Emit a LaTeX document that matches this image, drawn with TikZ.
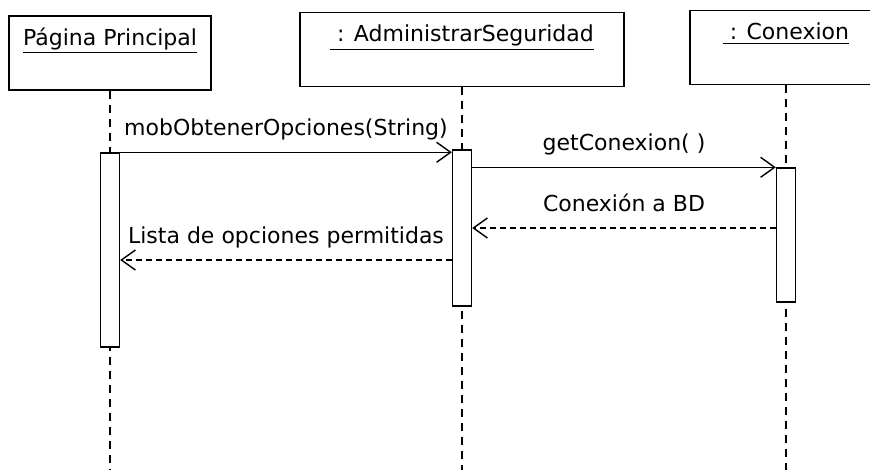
\documentclass[tikz,border=0pt]{standalone}
\usepackage{fontspec}
\setmainfont{DejaVu Sans}
\usetikzlibrary{positioning, arrows.meta, calc}

\begin{document}
\begin{tikzpicture}[x=0.5pt, y=-0.5pt,
    every node/.style={font=\fontsize{11}{13}\selectfont},
    objeto/.style={draw, line width=0.7pt, minimum width=#1, minimum height=37pt, inner sep=0pt},
    nombre/.style={anchor=base, yshift=-15pt, inner sep=0pt},
    activa/.style={draw, fill=white, line width=0.7pt, minimum width=9.5pt, minimum height=#1, inner sep=0pt},
    vida/.style={line width=0.8pt, dash pattern=on 4pt off 3pt},
    llamada/.style={line width=0.7pt, -{Straight Barb[length=7pt, width=10pt]}},
    retorno/.style={llamada, dash pattern=on 3pt off 2pt},
    lbl/.style={midway, anchor=base, yshift=8.5pt, inner sep=0pt}]
    \useasboundingbox (0,0) rectangle (870,470);
    \clip (0,0) rectangle (870,470);

    % Objects
    \node[objeto=101pt] (pag) at (110,53) {};
    \node[objeto=162pt] (adm) at (462,49.5) {};
    \node[objeto=96pt] (con) at (786,47.5) {};
    \node[nombre] (txtPag) at (pag.north) {\underline{Página Principal}};
    \node[nombre] (txtAdm) at (adm.north) {\underline{\ : AdministrarSeguridad}};
    \node[nombre] (txtCon) at (con.north) {\underline{\ : Conexion}};

    % Lifelines
    \coordinate (fin) at (0,470);
    \draw[vida] (pag.south) -- (pag.south |- fin);
    \draw[vida] (adm.south) -- (adm.south |- fin);
    \draw[vida] (con.south) -- (con.south |- fin);

    % Activations
    \node[activa=97pt] (actPag) at (110,250) {};
    \node[activa=78pt] (actAdm) at (462,228) {};
    \node[activa=67pt] (actCon) at (786,235) {};

    % Messages
    \coordinate (yBD) at (0,228);
    \coordinate (yLista) at (0,260);
    \draw[llamada] (actPag.north east) -- node[lbl] (lblOpc) {mobObtenerOpciones(String)} (actPag.north east -| actAdm.west);
    \draw[llamada] (actAdm.east |- actCon.north) -- node[lbl] (lblGet) {getConexion( )} (actCon.north west);
    \draw[retorno] (actCon.west |- yBD) -- node[lbl] (lblBD) {Conexión a BD} (actAdm.east |- yBD);
    \draw[retorno] (actAdm.west |- yLista) -- node[lbl] (lblLista) {Lista de opciones permitidas} (actPag.east |- yLista);
\end{tikzpicture}
\end{document}
